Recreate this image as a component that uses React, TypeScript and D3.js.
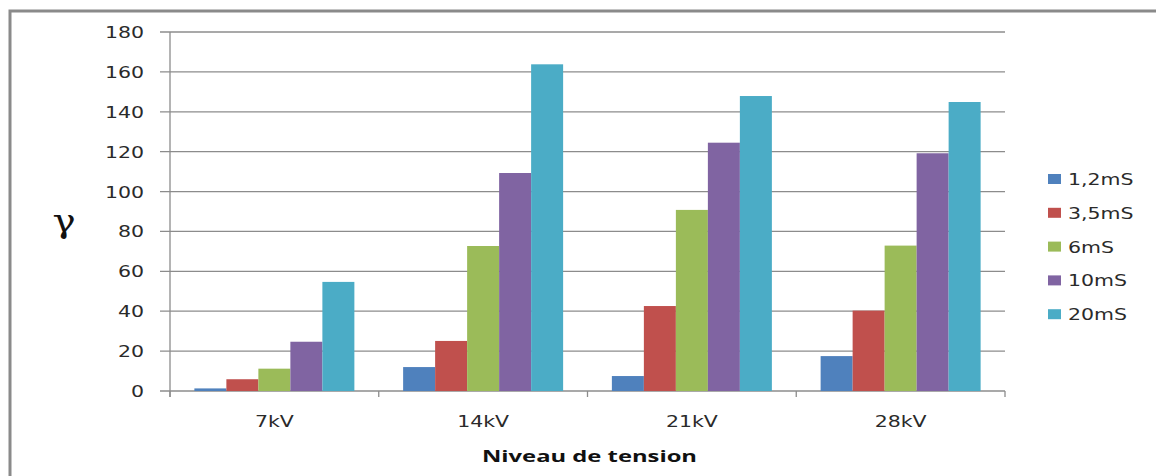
import React from "react";
import * as d3 from "d3";

const categories = ["7kV", "14kV", "21kV", "28kV"];
const seriesNames = ["1,2mS", "3,5mS", "6mS", "10mS", "20mS"];
const s12 = [1.3, 12.0, 7.5, 17.5];
const s35 = [5.9, 25.1, 42.6, 40.3];
const s6 = [11.2, 72.7, 90.8, 72.9];
const s10 = [24.7, 109.3, 124.5, 119.2];
const s20 = [54.7, 163.8, 147.9, 144.9];
const seriesValues = [s12, s35, s6, s10, s20];
const colors = ["#4F81BD", "#C0504D", "#9BBB59", "#8064A2", "#4BACC6"];
const yTicks = [0, 20, 40, 60, 80, 100, 120, 140, 160, 180];

const W = 1156;
const H = 476;
const left = 170;
const right = 1005;
const top = 32;
const bottom = 391;
const SX = 1.28;
const font = "DejaVu Sans";

export default function App() {
  const x0 = d3.scaleBand<string>().domain(categories).range([left, right]).padding(0);
  const step = x0.bandwidth();
  const gap = step * (48.75 / 208.75) / 2;
  const x1 = d3.scaleBand<string>().domain(seriesNames).range([gap, step - gap]).padding(0);
  const y = d3.scaleLinear().domain([0, 180]).range([bottom, top]);
  const grid = "#8c8c8c";

  return (
    <svg width={W} height={H} style={{ position: "absolute", left: 0, top: 0, background: "#fff" }}>
      <rect x={0} y={0} width={W} height={H} fill="#fff" />
      <rect x={10} y={11} width={W + 20} height={H + 20} fill="none" stroke="#8a8a8a" strokeWidth={3} />
      {yTicks.map((t) => (
        <g key={t}>
          <line x1={left - 10} x2={right} y1={y(t)} y2={y(t)} stroke={grid} strokeWidth={1.3} />
          <text
            transform={`translate(144,${y(t) + 6}) scale(${SX},1)`}
            textAnchor="end"
            fontFamily={font}
            fontSize={16}
            fill="#2a2a2a"
          >
            {t}
          </text>
        </g>
      ))}
      <line x1={left} x2={left} y1={top} y2={bottom + 6} stroke={grid} strokeWidth={1.3} />
      {d3.range(categories.length + 1).map((i) => {
        const xx = left + i * step;
        return <line key={i} x1={xx} x2={xx} y1={bottom} y2={bottom + 6} stroke={grid} strokeWidth={1.3} />;
      })}
      {seriesValues.map((vals, si) =>
        vals.map((v, ci) => (
          <rect
            key={`${si}-${ci}`}
            x={(x0(categories[ci]) as number) + (x1(seriesNames[si]) as number)}
            y={y(v)}
            width={x1.bandwidth()}
            height={bottom - y(v)}
            fill={colors[si]}
          />
        ))
      )}
      {categories.map((c) => (
        <text
          key={c}
          transform={`translate(${(x0(c) as number) + step / 2},427) scale(${SX},1)`}
          textAnchor="middle"
          fontFamily={font}
          fontSize={16}
          fill="#2a2a2a"
        >
          {c}
        </text>
      ))}
      {seriesNames.map((s, i) => {
        const ly = 174 + i * 33.8;
        return (
          <g key={s}>
            <rect x={1048} y={ly} width={13} height={10} fill={colors[i]} />
            <text
              transform={`translate(1068,${ly + 11}) scale(${SX},1)`}
              fontFamily={font}
              fontSize={16}
              fill="#2a2a2a"
            >
              {s}
            </text>
          </g>
        );
      })}
      <text
        x={589.5}
        y={462}
        textAnchor="middle"
        fontFamily="Open Sans"
        fontWeight={700}
        fontSize={16}
        textLength={215}
        lengthAdjust="spacingAndGlyphs"
        fill="#111"
      >
        Niveau de tension
      </text>
      <text
        transform="translate(64,232) scale(1.25,1)"
        textAnchor="middle"
        fontFamily="DejaVu Serif"
        fontSize={31}
        fill="#111"
      >
        γ
      </text>
    </svg>
  );
}
